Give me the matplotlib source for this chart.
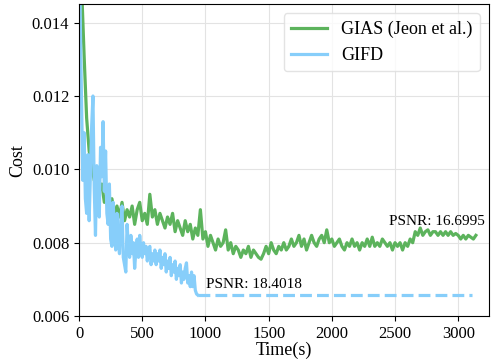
import matplotlib
matplotlib.use("Agg")
import matplotlib.pyplot as plt

plt.rcParams["font.family"] = ["Liberation Serif", "DejaVu Serif"]

gias_t = list(range(0, 3141, 20))
gias_v = [
    0.0175, 0.0150, 0.0131, 0.0114, 0.0105, 0.0101, 0.0097, 0.0099, 0.0094, 0.0096,
    0.0091, 0.0093, 0.0089, 0.0092, 0.0088, 0.0090, 0.0087, 0.0091, 0.0086, 0.0089,
    0.0087, 0.0090, 0.0085, 0.0089, 0.0091, 0.0086, 0.0088, 0.0085, 0.00932, 0.0087,
    0.0089, 0.0085, 0.0088, 0.0086, 0.0084, 0.0087, 0.0085, 0.0088, 0.0083, 0.0086,
    0.0084, 0.0082, 0.0086, 0.0083, 0.0085, 0.0081, 0.0084, 0.0082, 0.0089, 0.0081,
    0.0083, 0.0079, 0.0082, 0.0080, 0.0078, 0.0081, 0.0079, 0.0080, 0.00835, 0.0078,
    0.0080, 0.0077, 0.0079, 0.0078, 0.0076, 0.0078, 0.0077, 0.0079, 0.0076, 0.0078,
    0.0077, 0.0076, 0.00755, 0.0077, 0.0079, 0.0077, 0.0080, 0.0078, 0.0077, 0.0079,
    0.0078, 0.0080, 0.0078, 0.0079, 0.0081, 0.0079, 0.0080, 0.0082, 0.0079, 0.0081,
    0.0078, 0.0080, 0.0082, 0.0080, 0.0079, 0.0081, 0.0082, 0.0080, 0.00835, 0.0080,
    0.0081, 0.0079, 0.0080, 0.0081, 0.0079, 0.0078, 0.0080, 0.0079, 0.0081, 0.0079,
    0.0080, 0.0078, 0.0080, 0.0079, 0.0081, 0.0079, 0.00815, 0.0079, 0.0080, 0.0079,
    0.0081, 0.0080, 0.0079, 0.0080, 0.0078, 0.0080, 0.0079, 0.0080, 0.0078, 0.0080,
    0.0079, 0.0081, 0.0080, 0.0083, 0.0082, 0.0084, 0.0082, 0.0083, 0.00835, 0.0082,
    0.0083, 0.0083, 0.0082, 0.0083, 0.0082, 0.0083, 0.0082, 0.0083, 0.0082, 0.00825,
    0.0082, 0.0081, 0.0082, 0.0081, 0.0082, 0.00815, 0.0081, 0.0082,
]

# GIFD - cost sampled every 10 s until it stops
gifd_t = list(range(0, 941, 10))
gifd_v = [
    0.0175, 0.0140, 0.0118, 0.0097, 0.0110, 0.0092, 0.0088, 0.0104, 0.0086, 0.0099,
    0.0112, 0.0120, 0.0095, 0.0082, 0.0101, 0.0090, 0.0087, 0.0106, 0.0098, 0.0113,
    0.0094, 0.0105, 0.0088, 0.0085, 0.0096, 0.0081, 0.0079, 0.0091, 0.0083, 0.0078,
    0.0088, 0.0080, 0.0077, 0.0086, 0.0090, 0.0076, 0.0074, 0.0072, 0.0085, 0.0079,
    0.0076, 0.0082, 0.0077, 0.0080, 0.0073, 0.0078, 0.0081, 0.0076, 0.0082, 0.0078,
    0.0076, 0.0080, 0.0077, 0.0079, 0.0075, 0.0078, 0.0079, 0.0074, 0.0077, 0.0075,
    0.0078, 0.0074, 0.0077, 0.0075, 0.0078, 0.0073, 0.0076, 0.0074, 0.0077, 0.0072,
    0.0075, 0.0073, 0.0076, 0.0071, 0.0074, 0.0072, 0.0075, 0.0070, 0.0073, 0.0071,
    0.0074, 0.0069, 0.0072, 0.0070, 0.0073, 0.00745, 0.0069, 0.0071, 0.0068, 0.0072,
    0.0068, 0.0071, 0.0067, 0.0066, 0.00657,
]
gifd_hold_end = 3110  # last value kept flat (dashed) until here

green = "#5cb35c"
blue = "#87cefa"

fig, ax = plt.subplots(figsize=(4.91, 3.62), dpi=100)
fig.subplots_adjust(left=0.161, right=0.996, top=0.988, bottom=0.127)

ax.plot(gias_t, gias_v, color=green, lw=2.3, label="GIAS (Jeon et al.)")
ax.plot(gifd_t, gifd_v, color=blue, lw=2.3, label="GIFD")
ax.plot([gifd_t[-1], gifd_hold_end], [gifd_v[-1], gifd_v[-1]], color=blue, lw=2.3, ls="--")

ax.text(gifd_t[-1] + 65, gifd_v[-1] + 0.0002, "PSNR: 18.4018", fontsize=11)
ax.text(2450, 0.00848, "PSNR: 16.6995", fontsize=11)

ax.set_xlim(0, 3244)
ax.set_ylim(0.006, 0.0145)
ax.set_yticks([0.006, 0.008, 0.010, 0.012, 0.014])
ax.set_xticks([0, 500, 1000, 1500, 2000, 2500, 3000])
ax.tick_params(labelsize=12)
ax.grid(True, color="#e3e3e3", lw=0.8)
ax.set_axisbelow(True)
ax.set_xlabel("Time(s)", fontsize=13, labelpad=0)
ax.set_ylabel("Cost", fontsize=13, labelpad=4)
ax.legend(loc="upper right", fontsize=13, edgecolor="#dddddd")

fig.savefig("out.png", dpi=100)
